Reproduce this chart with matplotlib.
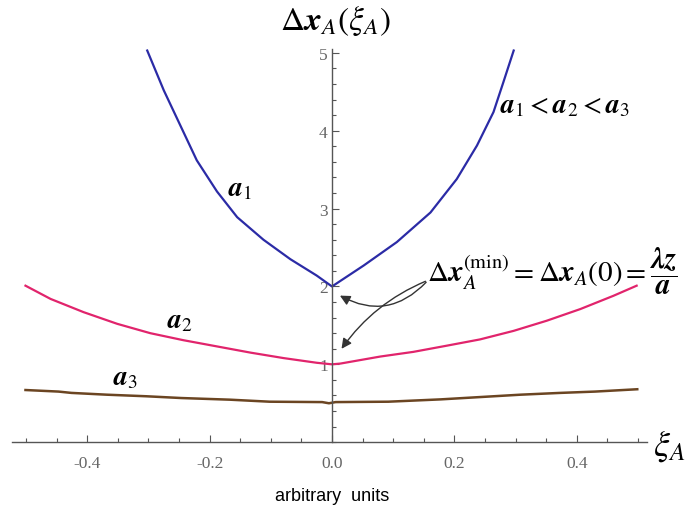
import matplotlib
matplotlib.use('Agg')
import matplotlib.pyplot as plt
from matplotlib.patches import FancyArrowPatch
from matplotlib.ticker import MultipleLocator, FormatStrFormatter

plt.rcParams['mathtext.fontset'] = 'stix'

# curve a1 (blue)
x_a1 = [-0.302, -0.275, -0.248, -0.221, -0.188, -0.155, -0.112, -0.068, -0.025, 0.0,
        0.052, 0.106, 0.161, 0.204, 0.237, 0.264, 0.280, 0.297]
y_a1 = [5.03, 4.52, 4.07, 3.62, 3.22, 2.89, 2.60, 2.35, 2.14, 2.0,
        2.27, 2.57, 2.95, 3.38, 3.81, 4.24, 4.62, 5.03]

# curve a2 (pink)
x_a2 = [-0.501, -0.460, -0.406, -0.351, -0.297, -0.243, -0.188, -0.133, -0.079, -0.025, 0.0,
        0.014, 0.079, 0.133, 0.188, 0.242, 0.297, 0.351, 0.406, 0.460, 0.498]
y_a2 = [2.01, 1.84, 1.67, 1.52, 1.40, 1.31, 1.23, 1.15, 1.08, 1.02, 1.0,
        1.01, 1.10, 1.16, 1.24, 1.32, 1.43, 1.56, 1.71, 1.88, 2.01]

# curve a3 (brown)
x_a3 = [-0.501, -0.447, -0.426, -0.368, -0.304, -0.246, -0.167, -0.102, -0.016, -0.005,
        0.006, 0.092, 0.178, 0.243, 0.308, 0.373, 0.430, 0.499]
y_a3 = [0.67, 0.65, 0.633, 0.61, 0.59, 0.567, 0.546, 0.52, 0.515, 0.50,
        0.515, 0.52, 0.55, 0.58, 0.61, 0.633, 0.65, 0.68]

x_ticks = [-0.4, -0.2, 0.0, 0.2, 0.4]
y_ticks = [1, 2, 3, 4, 5]

fig = plt.figure(figsize=(6.91, 5.10), dpi=100)
ax = fig.add_axes([0.0174, 0.131, 0.919, 0.771])

ax.plot(x_a1, y_a1, color='#2b2ba6', lw=1.6)
ax.plot(x_a2, y_a2, color='#e1246c', lw=1.6)
ax.plot(x_a3, y_a3, color='#6b4522', lw=1.8)

ax.set_xlim(-0.523, 0.515)
ax.set_ylim(0, 5.05)

for s in ['top', 'right']:
    ax.spines[s].set_visible(False)
ax.spines['left'].set_position(('data', 0))
ax.spines['left'].set_color('#555555')
ax.spines['bottom'].set_color('#555555')
ax.spines['left'].set_linewidth(1.0)
ax.spines['bottom'].set_linewidth(1.0)

ax.set_xticks(x_ticks)
ax.set_yticks(y_ticks)
ax.xaxis.set_minor_locator(MultipleLocator(0.05))
ax.yaxis.set_minor_locator(MultipleLocator(0.2))
ax.xaxis.set_major_formatter(FormatStrFormatter('%.1f'))
ax.tick_params(axis='both', which='major', direction='in', length=5, width=0.8,
               color='#555555', labelcolor='#666666', labelsize=12.5)
ax.tick_params(axis='both', which='minor', direction='in', length=3, width=0.8,
               color='#555555')
ax.tick_params(axis='x', which='major', pad=9)
ax.tick_params(axis='y', which='major', pad=3)
for lab in ax.get_xticklabels() + ax.get_yticklabels():
    lab.set_family('Liberation Serif')

# axis titles
ax.text(0.005, 5.42, r'$\Delta \mathbfit{x}_A\left(\xi_A\right)$', fontsize=24,
        ha='center', va='center', clip_on=False)
ax.text(0.525, -0.04, r'$\xi_A$', fontsize=26, ha='left', va='center', clip_on=False)
ax.text(0.0, -0.68, 'arbitrary  units', fontsize=13, family='Liberation Sans',
        ha='center', va='center', clip_on=False)

# curve labels
ax.text(-0.150, 3.27, r'$\mathbfit{a}_1$', fontsize=20, ha='center', va='center')
ax.text(-0.248, 1.58, r'$\mathbfit{a}_2$', fontsize=20, ha='center', va='center')
ax.text(-0.337, 0.84, r'$\mathbfit{a}_3$', fontsize=20, ha='center', va='center')
ax.text(0.275, 4.34, r'$\mathbfit{a}_1 < \mathbfit{a}_2 < \mathbfit{a}_3$', fontsize=20,
        ha='left', va='center')

# minimum annotation
ax.text(0.156, 2.2,
        r'$\Delta \mathbfit{x}_A^{(\mathrm{min})} = \Delta \mathbfit{x}_A(0) = \dfrac{\mathbfit{\lambda z}}{\mathbfit{a}}$',
        fontsize=21, ha='left', va='center', clip_on=False)

arr1 = FancyArrowPatch((0.157, 2.08), (0.009, 1.90), connectionstyle='arc3,rad=-0.4',
                       arrowstyle='-|>,head_length=6,head_width=3', color='#333333', lw=1.0)
arr2 = FancyArrowPatch((0.157, 2.08), (0.013, 1.17), connectionstyle='arc3,rad=0.15',
                       arrowstyle='-|>,head_length=6,head_width=3', color='#333333', lw=1.0)
ax.add_patch(arr1)
ax.add_patch(arr2)

plt.savefig('out.png', dpi=100)
